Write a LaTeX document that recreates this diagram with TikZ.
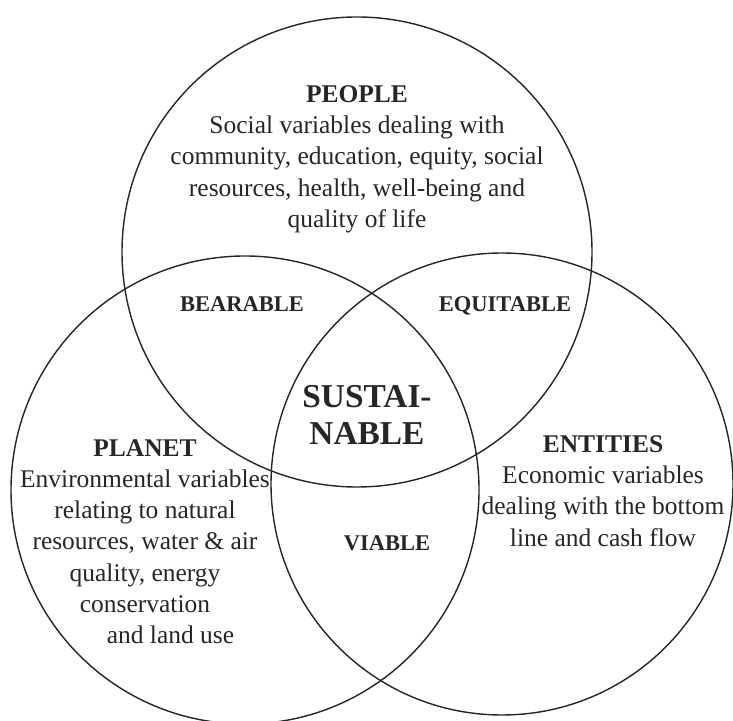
\documentclass[tikz,border=0pt]{standalone}
\usepackage{fontspec}
\setmainfont{Liberation Serif}
\begin{document}
\begin{tikzpicture}[x=0.02cm,y=0.02cm,
    ring/.style={line width=0.8pt,draw=black!85},
    txt/.style={align=center,inner sep=0pt,text=black!85,font=\fontsize{14.5}{17.8}\selectfont},
    lbl/.style={inner sep=0pt,anchor=base,text=black!85,font=\fontsize{12.8}{15}\selectfont\bfseries}]
  \useasboundingbox (0,0) rectangle (733,720);
  \draw [ring] (357,468) circle (235);
  \draw [ring] (245,230) circle (234);
  \draw [ring] (502,236) circle (231);
  \node [txt,anchor=north] (people) at (357,635)
    {\textbf{PEOPLE}\\Social variables dealing with\\community, education, equity, social\\resources, health, well-being and\\quality of life};
  \node [txt,anchor=north] (planet) at (145,281)
    {\textbf{PLANET}\\Environmental variables\\relating to natural\\resources, water \& air\\quality, energy\\conservation\\\hspace*{2em}and land use};
  \node [txt,anchor=north] (entities) at (603,285)
    {\textbf{ENTITIES}\\Economic variables\\dealing with the bottom\\line and cash flow};
  \node [lbl] (bearable) at (242,408) {BEARABLE};
  \node [lbl] (equitable) at (505,408) {EQUITABLE};
  \node [lbl] (viable) at (387,170) {VIABLE};
  \node [txt,font=\fontsize{19}{21.5}\selectfont\bfseries] (sustain) at (367,305) {SUSTAI-\\NABLE};
\end{tikzpicture}
\end{document}
